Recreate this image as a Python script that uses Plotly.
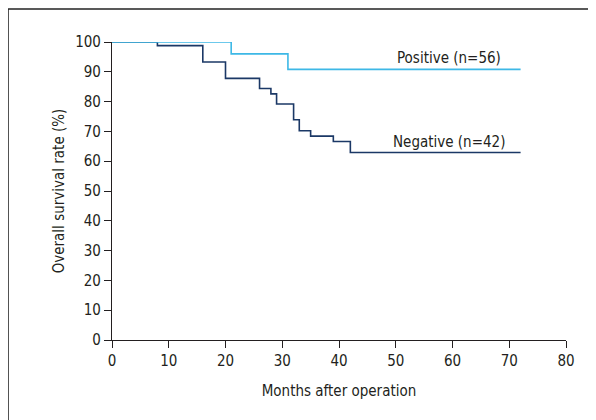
import plotly.graph_objects as go

# Kaplan-Meier style step data (months, survival %)
pos_months = [0, 21, 31, 72]
pos_survival = [100, 96.0, 90.8, 90.8]

neg_months = [0, 8, 16, 20, 26, 28, 29, 32, 33, 35, 39, 42, 72]
neg_survival = [100, 98.8, 93.3, 87.8, 84.4, 82.6, 79.2, 73.9, 70.2, 68.4, 66.6, 62.9, 62.9]

x_ticks = [0, 10, 20, 30, 40, 50, 60, 70, 80]
y_ticks = [0, 10, 20, 30, 40, 50, 60, 70, 80, 90, 100]

labels = ["Positive (n=56)", "Negative (n=42)"]
label_x = [59.4, 59.4]
label_y = [94.6, 66.6]

FONT = "Liberation Sans Narrow, DejaVu Sans Condensed, Arial Narrow, sans-serif"
AX = "#231f20"

fig = go.Figure()
fig.add_trace(go.Scatter(x=neg_months, y=neg_survival, mode="lines",
                         line=dict(shape="hv", color="#1b3866", width=1.6),
                         showlegend=False, hoverinfo="skip"))
fig.add_trace(go.Scatter(x=pos_months, y=pos_survival, mode="lines",
                         line=dict(shape="hv", color="#3db8e6", width=1.6),
                         showlegend=False, hoverinfo="skip"))

for t, xx, yy in zip(labels, label_x, label_y):
    fig.add_annotation(x=xx, y=yy, text=t, showarrow=False,
                       xanchor="center", yanchor="middle",
                       font=dict(family=FONT, size=15, color=AX))

axis_common = dict(showgrid=False, zeroline=False, showline=True, linecolor=AX,
                   linewidth=1.2, ticks="outside", ticklen=7, tickwidth=1,
                   tickcolor=AX, tickfont=dict(family=FONT, size=15, color=AX),
                   title_font=dict(family=FONT, size=15, color=AX))

fig.update_xaxes(range=[0, 80], tickvals=x_ticks, title_text="Months after operation",
                 title_standoff=16, **axis_common)
fig.update_yaxes(range=[0, 100], tickvals=y_ticks, title_text="Overall survival rate (%)",
                 title_standoff=6, **axis_common)

# partial frame (left and top edges)
fig.add_shape(type="line", xref="paper", yref="paper", x0=-0.229, x1=-0.229,
              y0=1.111, y1=-0.3, line=dict(color="#222222", width=1.5))
fig.add_shape(type="line", xref="paper", yref="paper", x0=-0.229, x1=1.1,
              y0=1.111, y1=1.111, line=dict(color="#222222", width=1.5))

fig.update_layout(width=588, height=412, margin=dict(l=104, r=30, t=34, b=80),
                  plot_bgcolor="white", paper_bgcolor="white")

fig.write_html("out.html")
